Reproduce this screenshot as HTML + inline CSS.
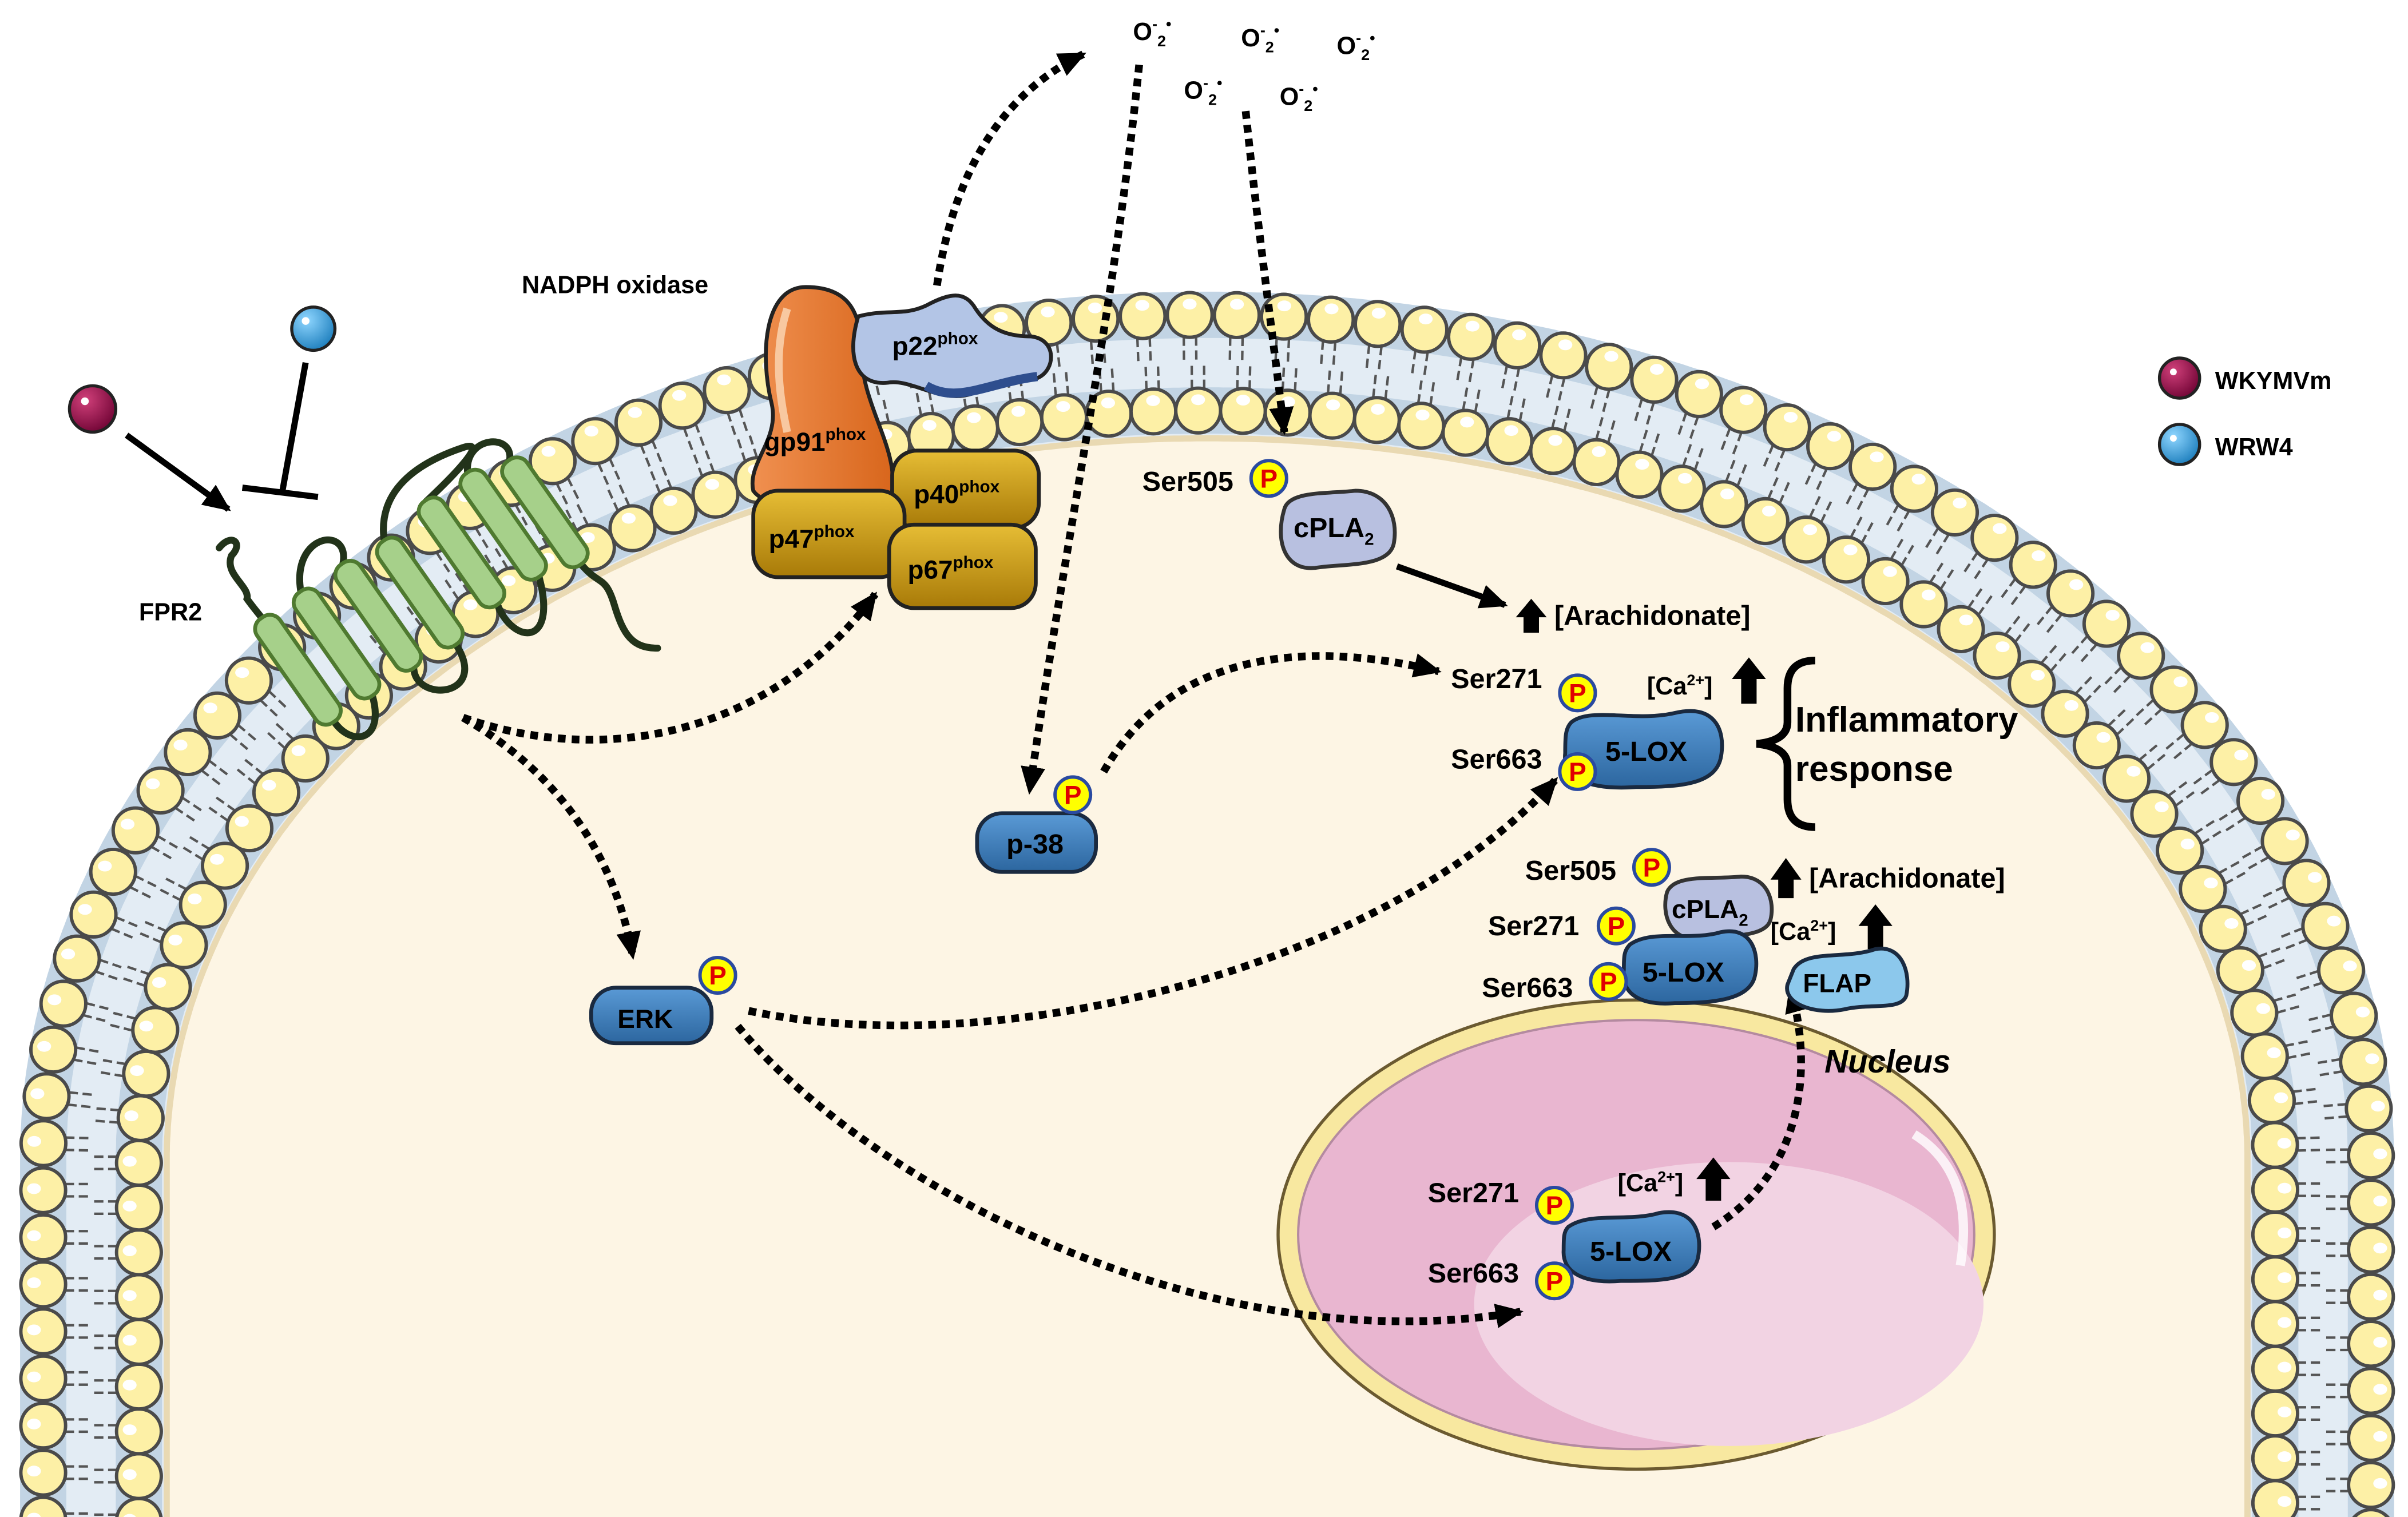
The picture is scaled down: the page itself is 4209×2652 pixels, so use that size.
<!DOCTYPE html>
<html><head><meta charset="utf-8">
<style>
html,body{margin:0;padding:0;background:#fff;}
svg{display:block;}
text{font-family:"Liberation Sans Narrow","Liberation Sans",Arial,sans-serif;font-weight:bold;fill:#000;}
.w{font-family:"Liberation Sans",Arial,sans-serif;}
</style></head>
<body>
<svg id="s" width="4209" height="2652" viewBox="0 0 1560 983" preserveAspectRatio="none" xmlns="http://www.w3.org/2000/svg">
<defs>
<marker id="ah" markerUnits="userSpaceOnUse" markerWidth="20" markerHeight="20" refX="16" refY="8" orient="auto">
<path d="M0,0 L18,8 L0,16 Z" fill="#000"/>
</marker>
<radialGradient id="gm" cx="0.35" cy="0.3" r="0.8"><stop offset="0" stop-color="#d0407a"/><stop offset="1" stop-color="#6a0030"/></radialGradient>
<radialGradient id="gb" cx="0.35" cy="0.3" r="0.8"><stop offset="0" stop-color="#8fd6ff"/><stop offset="1" stop-color="#1578b8"/></radialGradient>
<linearGradient id="lox" x1="0" y1="0" x2="0" y2="1"><stop offset="0" stop-color="#5a9ad6"/><stop offset="1" stop-color="#2c669f"/></linearGradient>
<linearGradient id="gold" x1="0" y1="0" x2="0" y2="1"><stop offset="0" stop-color="#e6bd35"/><stop offset="1" stop-color="#a87a08"/></linearGradient>
<linearGradient id="org" x1="0" y1="0" x2="1" y2="0"><stop offset="0" stop-color="#f09050"/><stop offset="1" stop-color="#d8661c"/></linearGradient>
</defs>
<rect width="1560" height="983" fill="#fff"/>
<g id="mem"></g>

<!-- Nucleus -->
<ellipse cx="1060" cy="800" rx="232" ry="152" fill="#f8e8a0" stroke="#6b5a30" stroke-width="2"/>
<ellipse cx="1060" cy="800" rx="219" ry="139" fill="#e9b6d0" stroke="#b48aa0" stroke-width="1.5"/>
<ellipse cx="1120" cy="845" rx="165" ry="92" fill="#f2d3e3"/>
<path d="M1240,735 Q1280,760 1270,820" stroke="#fff" stroke-width="6" fill="none" opacity="0.8"/>
<text x="1182" y="695" font-size="21" font-style="italic" class="w">Nucleus</text>

<!-- Receptor FPR2 loops -->
<g fill="none" stroke="#22331a" stroke-width="4.5" stroke-linecap="round">
<path d="M142,355 C150,345 158,352 150,360 C145,372 162,380 160,388 C165,395 168,398 170,401"/>
<path d="M195,384 C188,345 228,340 222,366"/>
<path d="M249,351 C244,318 270,300 300,290 C318,284 292,310 276,325"/>
<path d="M303,307 C300,282 334,280 330,299"/>
<path d="M216,467 C228,485 250,480 241,450"/>
<path d="M268,432 C268,456 318,452 295,417"/>
<path d="M322,391 C332,418 362,420 349,373"/>
<path d="M376,365 C388,380 392,372 398,392 C404,412 410,420 426,420"/>
</g>
<g fill="#a6d08a" stroke="#4f7a30" stroke-width="2.5">
<rect x="-41" y="-9" width="82" height="18" rx="8" transform="translate(193,434) rotate(55)"/>
<rect x="-41" y="-9" width="82" height="18" rx="8" transform="translate(218,417) rotate(55)"/>
<rect x="-41" y="-9" width="82" height="18" rx="8" transform="translate(245,399) rotate(55)"/>
<rect x="-41" y="-9" width="82" height="18" rx="8" transform="translate(272,384) rotate(55)"/>
<rect x="-41" y="-9" width="82" height="18" rx="8" transform="translate(299,358) rotate(55)"/>
<rect x="-41" y="-9" width="82" height="18" rx="8" transform="translate(326,340) rotate(55)"/>
<rect x="-41" y="-9" width="82" height="18" rx="8" transform="translate(353,332) rotate(55)"/>
</g>
<text x="90" y="402" font-size="16" class="w">FPR2</text>

<!-- Ligands -->
<circle cx="60" cy="265" r="15" fill="url(#gm)" stroke="#222" stroke-width="2"/>
<circle cx="55" cy="260" r="2.5" fill="#fff"/>
<circle cx="203" cy="213" r="14" fill="url(#gb)" stroke="#222" stroke-width="2"/>
<circle cx="198" cy="208" r="2.5" fill="#fff"/>
<line x1="82" y1="282" x2="148" y2="330" stroke="#000" stroke-width="4" marker-end="url(#ah)"/>
<line x1="198" y1="235" x2="183" y2="318" stroke="#000" stroke-width="4"/>
<line x1="157" y1="316" x2="206" y2="322" stroke="#000" stroke-width="4"/>

<!-- NADPH oxidase -->
<text x="338" y="190" font-size="16" class="w">NADPH oxidase</text>
<path d="M522,186 C495,186 492,230 500,262 C505,285 484,300 488,318 C500,335 570,335 578,318 C582,290 558,262 558,228 C558,200 548,186 522,186Z" fill="url(#org)" stroke="#222" stroke-width="2.5"/>
<path d="M510,200 C500,230 506,262 510,280" stroke="#f8c8a0" stroke-width="5" fill="none"/>
<text x="495" y="292" font-size="17">gp91<tspan font-size="11" dy="-7">phox</tspan></text>
<path d="M556,205 C575,200 585,205 600,198 C615,190 625,188 632,200 C640,212 650,218 668,218 C685,220 684,240 672,245 C655,248 645,250 630,255 C610,262 590,245 575,248 C555,250 548,232 556,205Z" fill="#b3c5e6" stroke="#222" stroke-width="2.5"/>
<path d="M600,250 C620,262 640,248 672,244" stroke="#2e4e8e" stroke-width="6" fill="none"/>
<text x="578" y="230" font-size="17">p22<tspan font-size="11" dy="-7">phox</tspan></text>
<rect x="578" y="292" width="95" height="50" rx="16" fill="url(#gold)" stroke="#222" stroke-width="2.5"/>
<text x="592" y="326" font-size="17">p40<tspan font-size="11" dy="-7">phox</tspan></text>
<rect x="488" y="318" width="98" height="56" rx="16" fill="url(#gold)" stroke="#222" stroke-width="2.5"/>
<text x="498" y="355" font-size="17">p47<tspan font-size="11" dy="-7">phox</tspan></text>
<rect x="576" y="340" width="95" height="54" rx="16" fill="url(#gold)" stroke="#222" stroke-width="2.5"/>
<text x="588" y="375" font-size="17">p67<tspan font-size="11" dy="-7">phox</tspan></text>

<!-- Superoxide -->
<g font-size="16">
<text x="734" y="26">O<tspan font-size="10" dy="-7">-</tspan><tspan font-size="10" dy="11">2</tspan><tspan font-size="10" dy="-11">•</tspan></text>
<text x="804" y="30">O<tspan font-size="10" dy="-7">-</tspan><tspan font-size="10" dy="11">2</tspan><tspan font-size="10" dy="-11">•</tspan></text>
<text x="866" y="35">O<tspan font-size="10" dy="-7">-</tspan><tspan font-size="10" dy="11">2</tspan><tspan font-size="10" dy="-11">•</tspan></text>
<text x="767" y="64">O<tspan font-size="10" dy="-7">-</tspan><tspan font-size="10" dy="11">2</tspan><tspan font-size="10" dy="-11">•</tspan></text>
<text x="829" y="68">O<tspan font-size="10" dy="-7">-</tspan><tspan font-size="10" dy="11">2</tspan><tspan font-size="10" dy="-11">•</tspan></text>
</g>

<!-- dotted connectors -->
<g fill="none" stroke="#000" stroke-width="5" stroke-dasharray="5 4" marker-end="url(#ah)">
<path d="M607,185 C618,110 650,60 702,35"/>
<path d="M738,42 C722,200 690,350 667,513"/>
<path d="M807,72 C815,150 825,220 832,280"/>
<path d="M300,465 C400,500 505,470 567,385"/>
<path d="M300,465 C360,500 398,552 410,620"/>
<path d="M715,500 C760,420 850,415 932,435"/>
<path d="M485,655 C650,690 900,625 1008,505"/>
<path d="M478,665 C560,765 780,885 985,850"/>
<path d="M1110,795 C1160,765 1178,705 1160,640"/>
</g>
<line x1="905" y1="367" x2="975" y2="392" stroke="#000" stroke-width="4" marker-end="url(#ah)"/>

<!-- ERK, p-38 -->
<rect x="383" y="640" width="78" height="36" rx="16" fill="url(#lox)" stroke="#1a2a40" stroke-width="2.5"/>
<text x="400" y="666" font-size="17" class="w">ERK</text>
<rect x="633" y="527" width="77" height="38" rx="16" fill="url(#lox)" stroke="#1a2a40" stroke-width="2.5"/>
<text x="652" y="553" font-size="18">p-38</text>

<!-- cPLA2 top -->
<text x="740" y="318" font-size="18">Ser505</text>
<path d="M832,330 C835,318 860,320 878,318 C898,318 906,335 903,352 C900,368 870,365 852,368 C832,370 826,350 832,330Z" fill="#b8c0e0" stroke="#333" stroke-width="2.5"/>
<text x="838" y="348" font-size="18">cPLA<tspan font-size="11" dy="5">2</tspan></text>
<polygon points="987,410 987,400 982,400 992,388 1002,400 997,400 997,410" fill="#000"/>
<text x="1007" y="405" font-size="18">[Arachidonate]</text>

<!-- 5-LOX cytosol -->
<text x="940" y="446" font-size="18">Ser271</text>
<text x="940" y="498" font-size="18">Ser663</text>
<path d="M1018,468 C1030,458 1060,468 1085,462 C1110,456 1118,472 1115,490 C1112,508 1090,510 1060,510 C1030,512 1012,505 1014,488 C1014,478 1014,472 1018,468Z" fill="url(#lox)" stroke="#1a2a40" stroke-width="2.5"/>
<text x="1040" y="493" font-size="18">5-LOX</text>
<text x="1067" y="450" font-size="16">[Ca<tspan font-size="10" dy="-6">2+</tspan><tspan dy="6">]</tspan></text>
<polygon points="1128,456 1128,440 1122,440 1133,426 1144,440 1138,440 1138,456" fill="#000"/>

<!-- bracket -->
<path d="M1176,428 Q1158,428 1158,446 L1158,468 Q1158,480 1138,482 Q1158,484 1158,496 L1158,518 Q1158,536 1176,536" fill="none" stroke="#000" stroke-width="5"/>
<text x="1163" y="474" font-size="23" class="w">Inflammatory</text>
<text x="1163" y="506" font-size="23" class="w">response</text>

<!-- perinuclear cluster -->
<text x="988" y="570" font-size="18">Ser505</text>
<path d="M1080,578 C1085,566 1110,570 1128,568 C1145,568 1150,584 1147,596 C1144,608 1118,606 1100,608 C1082,610 1076,592 1080,578Z" fill="#b8c0e0" stroke="#333" stroke-width="2.5"/>
<text x="1083" y="595" font-size="17">cPLA<tspan font-size="11" dy="5">2</tspan></text>
<polygon points="1152,582 1152,570 1147,570 1157,556 1167,570 1162,570 1162,582" fill="#000"/>
<text x="1172" y="575" font-size="18">[Arachidonate]</text>
<text x="964" y="606" font-size="18">Ser271</text>
<text x="960" y="646" font-size="18">Ser663</text>
<path d="M1056,612 C1070,602 1095,610 1115,604 C1135,600 1140,618 1137,632 C1134,648 1110,650 1085,650 C1060,652 1050,642 1052,628 C1052,620 1052,616 1056,612Z" fill="url(#lox)" stroke="#1a2a40" stroke-width="2.5"/>
<text x="1064" y="636" font-size="18">5-LOX</text>
<text x="1147" y="609" font-size="16">[Ca<tspan font-size="10" dy="-6">2+</tspan><tspan dy="6">]</tspan></text>
<polygon points="1210,615 1210,600 1204,600 1215,586 1226,600 1220,600 1220,615" fill="#000"/>
<path d="M1162,628 C1170,615 1195,622 1215,615 C1232,612 1238,630 1235,645 C1232,655 1212,650 1195,654 C1175,658 1155,650 1158,638Z" fill="#8cc8ec" stroke="#1a2a40" stroke-width="2.5"/>
<text x="1168" y="643" font-size="17">FLAP</text>

<!-- nuclear cluster -->
<text x="925" y="779" font-size="18">Ser271</text>
<text x="925" y="831" font-size="18">Ser663</text>
<path d="M1016,795 C1030,785 1055,792 1075,786 C1098,782 1103,800 1100,815 C1097,830 1075,830 1050,830 C1025,832 1012,824 1013,810 C1013,802 1013,798 1016,795Z" fill="url(#lox)" stroke="#1a2a40" stroke-width="2.5"/>
<text x="1030" y="817" font-size="18">5-LOX</text>
<text x="1048" y="772" font-size="16">[Ca<tspan font-size="10" dy="-6">2+</tspan><tspan dy="6">]</tspan></text>
<polygon points="1105,778 1105,764 1099,764 1110,750 1121,764 1115,764 1115,778" fill="#000"/>

<!-- P circles -->
<g id="ps"></g>

<!-- Legend -->
<circle cx="1412" cy="245" r="13" fill="url(#gm)" stroke="#222" stroke-width="2"/>
<circle cx="1408" cy="241" r="2.2" fill="#fff"/>
<text x="1435" y="252" font-size="16" class="w">WKYMVm</text>
<circle cx="1412" cy="288" r="13" fill="url(#gb)" stroke="#222" stroke-width="2"/>
<circle cx="1408" cy="284" r="2.2" fill="#fff"/>
<text x="1435" y="295" font-size="16" class="w">WRW4</text>
</svg>
<script>
(function(){
var NS="http://www.w3.org/2000/svg";
var mem=document.getElementById("mem");
var CX=782, CY=752, YB=1000;
function pts(rx,ry){
  var a=[],i;
  for(i=0;i<=60;i++){a.push([CX-rx,YB-(YB-CY)*i/60]);}
  for(i=1;i<=600;i++){var t=Math.PI-Math.PI*i/600;a.push([CX+rx*Math.cos(t),CY-ry*Math.sin(t)]);}
  for(i=1;i<=60;i++){a.push([CX+rx,CY+(YB-CY)*i/60]);}
  return a;
}
function d(a,close){var s="M"+a[0][0].toFixed(1)+","+a[0][1].toFixed(1);for(var i=1;i<a.length;i++)s+="L"+a[i][0].toFixed(1)+","+a[i][1].toFixed(1);return s+(close?"Z":"");}
function el(n,at){var e=document.createElementNS(NS,n);for(var k in at)e.setAttribute(k,at[k]);mem.appendChild(e);return e;}
var O=pts(754,548), I=pts(692,486), C=pts(676,470);
el("path",{d:d(O,true),fill:"#e3ecf4"});
el("path",{d:d(O,false),fill:"none",stroke:"#c2d4e4","stroke-width":30});
el("path",{d:d(I,false),fill:"none",stroke:"#c2d4e4","stroke-width":30});
el("path",{d:d(C,true),fill:"#e9d9b2"});
var C2=pts(672,466);
el("path",{d:d(C2,true),fill:"#fdf5e4"});
function place(a,step){
  var res=[],acc=0,next=step/2;
  for(var i=1;i<a.length;i++){
    var dx=a[i][0]-a[i-1][0],dy=a[i][1]-a[i-1][1],L=Math.hypot(dx,dy);
    while(acc+L>=next){var f=(next-acc)/L;var x=a[i-1][0]+dx*f,y=a[i-1][1]+dy*f;
      var tx=dx/L,ty=dy/L; res.push([x,y,ty,-tx]); next+=step;}
    acc+=L;
  }
  return res;
}
var oc=place(O,30.5), ic=place(I,29);
function tails(list,sign){
  list.forEach(function(p){
    var nx=p[2]*sign,ny=p[3]*sign,tx=-p[3],ty=p[2];
    [-4,4].forEach(function(o){
      el("line",{x1:p[0]+nx*14+tx*o,y1:p[1]+ny*14+ty*o,x2:p[0]+nx*30+tx*o,y2:p[1]+ny*30+ty*o,stroke:"#555","stroke-width":1.6,"stroke-dasharray":"6 3"});
    });
  });
}
tails(oc,-1); tails(ic,1);
function circ(list){
  list.forEach(function(p){
    el("circle",{cx:p[0],cy:p[1],r:14.5,fill:"#fdf0a6",stroke:"#4a4a4a","stroke-width":2.2});
    el("ellipse",{cx:p[0]+p[2]*6,cy:p[1]+p[3]*6-1,rx:4.5,ry:3.5,fill:"#fff"});
  });
}
circ(ic); circ(oc);
var ps=document.getElementById("ps");
[[822,310],[695,515],[465,632],[1022,449],[1022,500],[1070,562],[1047,600],[1042,636],[1007,781],[1007,830]].forEach(function(p){
  var c=document.createElementNS(NS,"circle");c.setAttribute("cx",p[0]);c.setAttribute("cy",p[1]);c.setAttribute("r",11.5);
  c.setAttribute("fill","#ffff00");c.setAttribute("stroke","#2a4aa0");c.setAttribute("stroke-width",2.2);ps.appendChild(c);
  var t=document.createElementNS(NS,"text");t.setAttribute("x",p[0]);t.setAttribute("y",p[1]+6);t.setAttribute("text-anchor","middle");
  t.setAttribute("font-size","17");t.setAttribute("class","w");t.setAttribute("style","fill:#e00000");t.textContent="P";ps.appendChild(t);
});
})();
</script>
</body></html>
